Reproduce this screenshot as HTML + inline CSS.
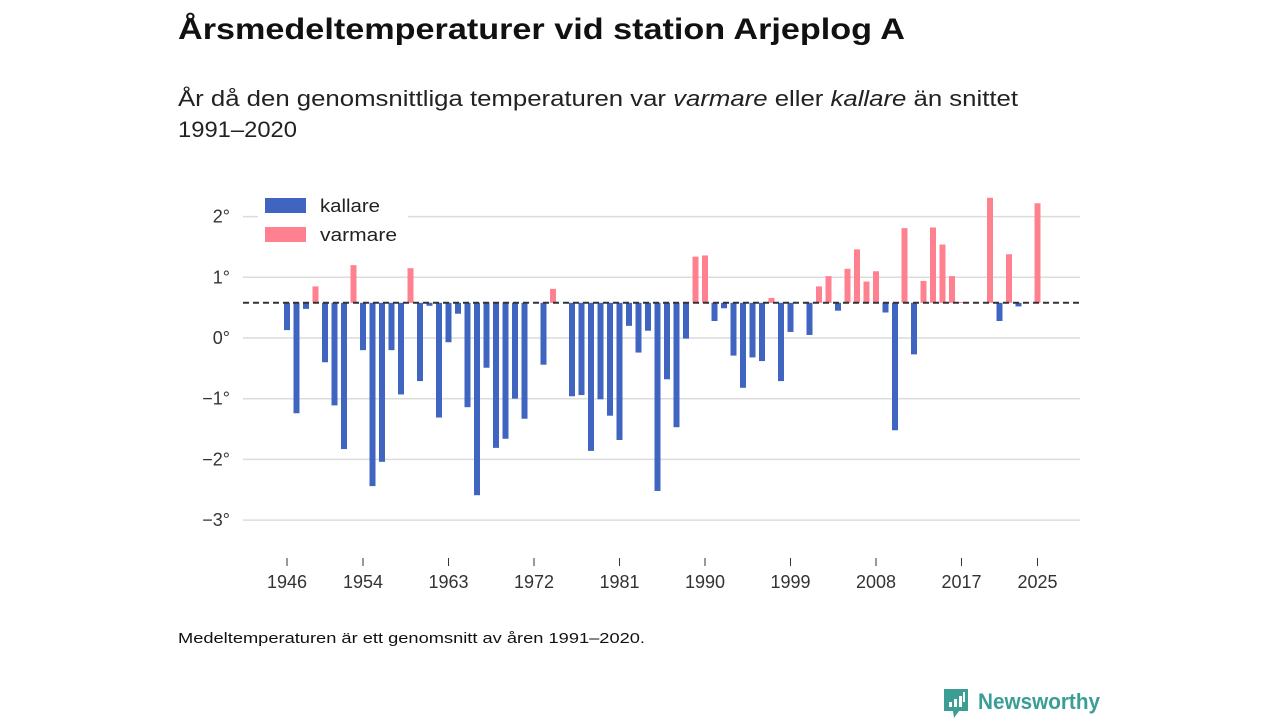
<!DOCTYPE html>
<html><head><meta charset="utf-8">
<style>
html,body{margin:0;padding:0;background:#fff;}
body{width:1280px;height:720px;overflow:hidden;font-family:"Liberation Sans",sans-serif;}
</style></head>
<body>
<svg id="chart" width="1280" height="720" xmlns="http://www.w3.org/2000/svg" font-family="Liberation Sans, sans-serif">
  <text x="178" y="39" font-size="30" font-weight="bold" fill="#111" textLength="727" lengthAdjust="spacingAndGlyphs">Årsmedeltemperaturer vid station Arjeplog A</text>
  <text x="178" y="106" font-size="22" fill="#222" textLength="840" lengthAdjust="spacingAndGlyphs">År då den genomsnittliga temperaturen var <tspan font-style="italic">varmare</tspan> eller <tspan font-style="italic">kallare</tspan> än snittet</text>
  <text x="178" y="137" font-size="22" fill="#222" textLength="119" lengthAdjust="spacingAndGlyphs">1991–2020</text>
  <g id="grid"></g>
  <g id="bars"></g>
  <g id="xaxis"></g>
  <g>
    <rect x="258" y="193" width="150" height="54" fill="#fff"/>
    <rect x="265" y="198" width="41" height="15" fill="#4065c0"/>
    <text x="320" y="212" font-size="18" fill="#222" textLength="60" lengthAdjust="spacingAndGlyphs">kallare</text>
    <rect x="265" y="227" width="41" height="15" fill="#ff818f"/>
    <text x="320" y="241" font-size="18" fill="#222" textLength="77" lengthAdjust="spacingAndGlyphs">varmare</text>
  </g>
  <text x="178" y="643" font-size="15" fill="#111" textLength="467" lengthAdjust="spacingAndGlyphs">Medeltemperaturen är ett genomsnitt av åren 1991–2020.</text>
  <g>
    <path d="M944 689 h24 v22 h-9 l-5 7 l-1 -7 h-9 z" fill="#3a9e95"/>
    <rect x="949" y="702" width="3" height="5" fill="#fff"/>
    <rect x="954" y="699" width="3" height="8" fill="#fff"/>
    <rect x="959" y="696" width="3" height="11" fill="#fff"/>
    <rect x="963" y="692" width="2" height="10" fill="#fff"/>
    <text x="978" y="709" font-size="22" font-weight="bold" fill="#3a9e95" textLength="122" lengthAdjust="spacingAndGlyphs">Newsworthy</text>
  </g>
</svg>
<script>
const years = [];
for (let y = 1946; y <= 2025; y++) years.push(y);
const temps = [0.13,-1.24,0.48,0.85,-0.40,-1.11,-1.83,1.20,-0.20,-2.44,-2.04,-0.20,-0.93,1.15,-0.71,0.53,-1.31,-0.07,0.40,-1.14,-2.59,-0.49,-1.81,-1.66,-1.00,-1.33,null,-0.44,0.81,null,-0.96,-0.94,-1.86,-1.01,-1.28,-1.68,0.20,-0.24,0.12,-2.52,-0.68,-1.47,-0.01,1.34,1.36,0.28,0.49,-0.29,-0.82,-0.32,-0.38,0.66,-0.71,0.10,null,0.05,0.85,1.02,0.45,1.14,1.46,0.93,1.10,0.42,-1.52,1.81,-0.27,0.94,1.82,1.54,1.02,0.59,null,null,2.31,0.28,1.38,0.52,null,2.22];
const normal = 0.58;
const yTicks = [2,1,0,-1,-2,-3];
const yTickLabels = ["2°","1°","0°","−1°","−2°","−3°"];
const xTicks = [1946,1954,1963,1972,1981,1990,1999,2008,2017,2025];

const NS = "http://www.w3.org/2000/svg";
const yS = v => 338 - v * 60.7;
const xS = yr => 287 + (yr - 1946) * 9.5;
function mk(tag, attrs, parent){ const e=document.createElementNS(NS,tag); for(const k in attrs) e.setAttribute(k,attrs[k]); parent.appendChild(e); return e; }

const grid = document.getElementById('grid');
yTicks.forEach((t,i)=>{
  const l = mk('line',{x1:243,x2:1080,y1:yS(t),y2:yS(t),stroke:'#dcdcdc','stroke-width':1.5},grid);
  
  
  const tx = mk('text',{x:230,y:yS(t)+6,'text-anchor':'end','font-size':18,fill:'#333'},grid);
  tx.textContent = yTickLabels[i];
  
  
});

const bars = document.getElementById('bars');
const y0 = yS(normal);
years.forEach((yr,i)=>{
  const v = temps[i];
  if (v === null) return;
  const y1 = yS(v);
  const r = mk('rect',{x:xS(yr)-3,y:Math.min(y0,y1),width:6,height:Math.max(0.8,Math.abs(y1-y0)),fill: v>=normal?'#ff818f':'#4065c0'},bars);
  
  
});
const dl = mk('line',{x1:243,x2:1080,y1:y0,y2:y0,stroke:'#333','stroke-width':2,'stroke-dasharray':'6,4'},bars);



const xa = document.getElementById('xaxis');
xTicks.forEach(t=>{
  const l = mk('line',{x1:xS(t),x2:xS(t),y1:558,y2:566,stroke:'#333','stroke-width':1},xa);
  
  
  const tx = mk('text',{x:xS(t),y:588,'text-anchor':'middle','font-size':18,fill:'#333'},xa);
  tx.textContent = t;
  
  
});
</script>
</body></html>
